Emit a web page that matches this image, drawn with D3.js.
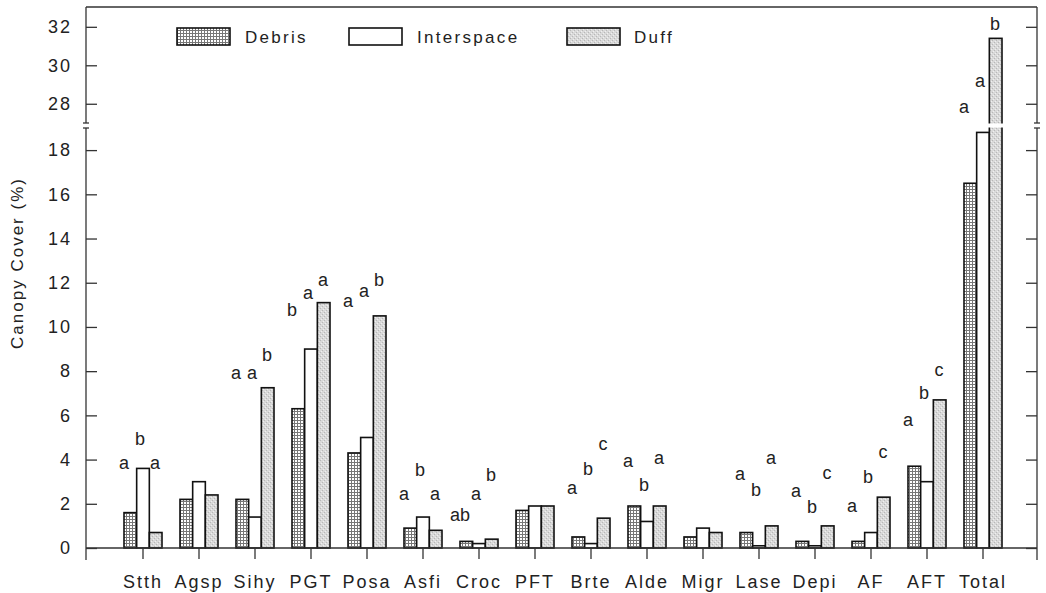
<!DOCTYPE html>
<html><head><meta charset="utf-8">
<script src="https://cdn.jsdelivr.net/npm/d3@7"></script>
<style>
body{margin:0;background:#fff;}
svg text{font-family:"Liberation Sans",Arial,sans-serif;fill:#222;}
</style></head>
<body><svg id="c" width="1046" height="593"></svg>
<script>
const categories = ["Stth","Agsp","Sihy","PGT","Posa","Asfi","Croc","PFT","Brte","Alde","Migr","Lase","Depi","AF","AFT","Total"];
const seriesNames = ["Debris","Interspace","Duff"];
const debris     = [1.6,2.2,2.2,6.3,4.3,0.9,0.3,1.7,0.5,1.9,0.5,0.7,0.3,0.3,3.7,16.5];
const interspace = [3.6,3.0,1.4,9.0,5.0,1.4,0.2,1.9,0.2,1.2,0.9,0.1,0.1,0.7,3.0,18.8];
const duff       = [0.7,2.4,7.25,11.1,10.5,0.8,0.4,1.9,1.35,1.9,0.7,1.0,1.0,2.3,6.7,31.4];
const lettersDebris = ["a","","a","b","a","a","ab","","a","a","","a","a","a","a","a"];
const lettersInter  = ["b","","a","a","a","b","a","","b","b","","b","b","b","b","a"];
const lettersDuff   = ["a","","b","a","b","a","b","","c","a","","a","c","c","c","b"];
const letterHDebris = [3.83,null,7.9,10.74,11.14,2.4,1.49,null,2.7,3.9,null,3.33,2.55,1.87,5.76,27.78];
const letterHInter  = [4.89,null,7.9,11.52,11.6,3.5,2.4,null,3.56,2.85,null,2.59,1.84,3.2,6.97,29.16];
const letterHDuff   = [3.83,null,8.73,12.1,12.1,2.4,3.3,null,4.66,4.06,null,4.06,3.38,4.31,8.02,32.1];
const lowTicks = [0,2,4,6,8,10,12,14,16,18];
const highTicks = [28,30,32];
const yTitle = "Canopy Cover (%)";

const svg = d3.select("#c");
const defs = svg.append("defs");
const pd = defs.append("pattern").attr("id","pDebris").attr("patternUnits","userSpaceOnUse").attr("width",3).attr("height",3);
pd.append("rect").attr("width",3).attr("height",3).attr("fill","#fff");
pd.append("path").attr("d","M0,0.5H3M0.5,0V3").attr("stroke","#777").attr("stroke-width",1);
const pf = defs.append("pattern").attr("id","pDuff").attr("patternUnits","userSpaceOnUse").attr("width",4).attr("height",4);
pf.append("rect").attr("width",4).attr("height",4).attr("fill","#d9d9d9");
[[0,0],[2,2]].forEach(p=>pf.append("rect").attr("x",p[0]).attr("y",p[1]).attr("width",1).attr("height",1).attr("fill","#b8b8b8"));
[[1,3],[3,1]].forEach(p=>pf.append("rect").attr("x",p[0]).attr("y",p[1]).attr("width",1).attr("height",1).attr("fill","#f0f0f0"));
const fills = ["url(#pDebris)","#fff","url(#pDuff)"];

const L = 86, R = 1037, B = 548, T = 7, brkLo = 128, brkHi = 123;
const yLow = d3.scaleLinear().domain([0,19]).range([B, brkLo]);
const yHigh = d3.scaleLinear().domain([27,33.03]).range([brkHi, T]);
const y = v => v <= 19 ? yLow(v) : yHigh(v);
const x0 = d3.scaleBand().domain(categories).range([115,1011]).padding(0);
const x1 = d3.scaleBand().domain(seriesNames).range([-19,19]).padding(0);

const data = [debris, interspace, duff];
const letters = [lettersDebris, lettersInter, lettersDuff];
const letterH = [letterHDebris, letterHInter, letterHDuff];

// bars
const g = svg.append("g");
categories.forEach((c,i)=>{
  seriesNames.forEach((s,j)=>{
    const v = data[j][i];
    const bx = x0(c) + x0.bandwidth()/2 + x1(s);
    g.append("rect").attr("x",bx).attr("y",y(v)).attr("width",x1.bandwidth()).attr("height",B - y(v))
      .attr("fill",fills[j]).attr("stroke","#111").attr("stroke-width",1.6);
  });
});
// break gap through tall bars
g.append("rect").attr("x",x0("Total")).attr("y",brkHi+0.5).attr("width",x0.bandwidth()).attr("height",brkLo-brkHi-1).attr("fill","#fff");

// letters
const offs = [-19,-3,12];
categories.forEach((c,i)=>{
  for(let j=0;j<3;j++){
    const t = letters[j][i];
    if(!t) continue;
    svg.append("text").attr("x", x0(c)+x0.bandwidth()/2+offs[j]).attr("y", y(letterH[j][i])+5.5)
      .attr("text-anchor","middle").attr("font-size",18).attr("fill","#111").text(t);
  }
});

// axes
const ax = svg.append("g").attr("stroke","#333").attr("stroke-width",1.3).attr("fill","none");
ax.append("line").attr("x1",L).attr("x2",R).attr("y1",B).attr("y2",B);
ax.append("line").attr("x1",L).attr("x2",R).attr("y1",T).attr("y2",T);
[L,R].forEach(xx=>{
  ax.append("line").attr("x1",xx).attr("x2",xx).attr("y1",560).attr("y2",brkLo);
  ax.append("line").attr("x1",xx).attr("x2",xx).attr("y1",brkHi).attr("y2",T);
  ax.append("line").attr("x1",xx-3).attr("x2",xx+3).attr("y1",brkLo).attr("y2",brkLo);
  ax.append("line").attr("x1",xx-3).attr("x2",xx+3).attr("y1",brkHi).attr("y2",brkHi);
});
function styleAxis(sel){
  sel.select(".domain").remove();
  sel.selectAll("line").attr("stroke","#333").attr("stroke-width",1.3);
  sel.selectAll("text").attr("font-size",18).attr("fill","#222").style("letter-spacing","2px")
     .attr("font-family","'Liberation Sans',Arial,sans-serif");
}
const fmt = d3.format("d");
svg.append("g").attr("transform",`translate(${L},0)`).call(d3.axisLeft(yLow).tickValues(lowTicks).tickFormat(fmt).tickSizeInner(-11).tickSizeOuter(0).tickPadding(14)).call(styleAxis);
svg.append("g").attr("transform",`translate(${L},0)`).call(d3.axisLeft(yHigh).tickValues(highTicks).tickFormat(fmt).tickSizeInner(-11).tickSizeOuter(0).tickPadding(14)).call(styleAxis);
svg.append("g").attr("transform",`translate(${R},0)`).call(d3.axisRight(yLow).tickValues(lowTicks).tickSizeInner(-11).tickSizeOuter(0).tickFormat("")).call(styleAxis);
svg.append("g").attr("transform",`translate(${R},0)`).call(d3.axisRight(yHigh).tickValues(highTicks).tickSizeInner(-11).tickSizeOuter(0).tickFormat("")).call(styleAxis);
svg.append("g").attr("transform",`translate(0,${B})`).call(d3.axisBottom(x0).tickSizeInner(11).tickSizeOuter(0).tickPadding(16)).call(styleAxis);

// y title
svg.append("text").attr("transform","translate(23,263) rotate(-90)").attr("text-anchor","middle")
  .attr("font-size",17).style("letter-spacing","2px").text(yTitle);

// legend
const legX = [177,349,567], legT = [245,417,634];
seriesNames.forEach((s,j)=>{
  svg.append("rect").attr("x",legX[j]).attr("y",28).attr("width",53).attr("height",17)
    .attr("fill",fills[j]).attr("stroke","#111").attr("stroke-width",1.6);
  svg.append("text").attr("x",legT[j]).attr("y",43).attr("font-size",17).style("letter-spacing","2.3px").text(s);
});
</script></body></html>
